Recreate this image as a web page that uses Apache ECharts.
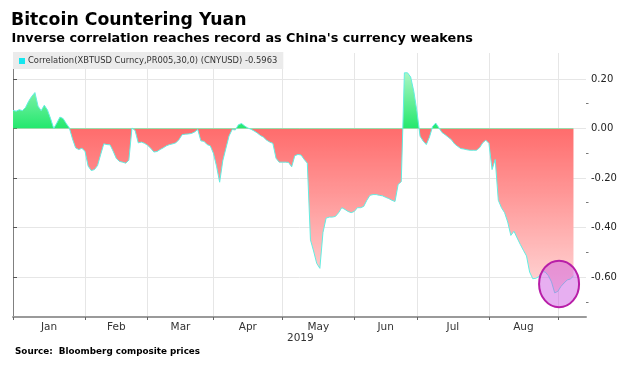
<!DOCTYPE html>
<html><head><meta charset="utf-8">
<script src="https://cdn.jsdelivr.net/npm/echarts@6/dist/echarts.min.js"></script>
<style>html,body{margin:0;padding:0;background:#fff}#c{width:631px;height:365px}</style>
</head><body><div id="c"></div>
<script>
// ---- data ----
const startDate = '2019-01-01';
const axisEndDate = '2019-09-13';
const monthNames = ['Jan','Feb','Mar','Apr','May','Jun','Jul','Aug'];
const yearLabel = '2019';
const yTickValues = [-0.6, -0.4, -0.2, 0, 0.2];
const yMinorTickValues = [-0.7, -0.5, -0.3, -0.1, 0.1];
const seriesName = 'Correlation(XBTUSD Curncy,PR005,30,0) (CNYUSD)';
const titleText = 'Bitcoin Countering Yuan';
const subtitleText = "Inverse correlation reaches record as China's currency weakens";
const sourceText = 'Source:  Bloomberg composite prices';
// one value per weekday from 2019-01-01
const correlation = [
 0.073, 0.070, 0.076, 0.072, 0.085, 0.110, 0.130, 0.145, 0.090, 0.072,
 0.094, 0.075, 0.040, 0.000, 0.022, 0.046, 0.040, 0.020, 0.002, -0.042,
 -0.078, -0.085, -0.080, -0.092, -0.152, -0.170, -0.166, -0.150, -0.105, -0.062,
 -0.065, -0.066, -0.092, -0.121, -0.133, -0.136, -0.140, -0.128, 0.002, -0.008,
 -0.058, -0.055, -0.060, -0.068, -0.080, -0.095, -0.093, -0.085, -0.078, -0.070,
 -0.065, -0.062, -0.058, -0.045, -0.025, -0.023, -0.022, -0.020, -0.014, -0.004,
 -0.050, -0.052, -0.065, -0.070, -0.100, -0.152, -0.217, -0.130, -0.080, -0.030,
 -0.004, -0.006, 0.015, 0.020, 0.010, 0.002, -0.003, -0.010, -0.018, -0.028,
 -0.035, -0.047, -0.055, -0.060, -0.120, -0.136, -0.136, -0.136, -0.137, -0.155,
 -0.110, -0.105, -0.107, -0.125, -0.140, -0.450, -0.495, -0.545, -0.565, -0.420,
 -0.362, -0.358, -0.358, -0.355, -0.340, -0.320, -0.327, -0.335, -0.340, -0.335,
 -0.320, -0.320, -0.315, -0.290, -0.270, -0.267, -0.267, -0.270, -0.272, -0.278,
 -0.283, -0.290, -0.295, -0.226, -0.215, 0.225, 0.225, 0.208, 0.150, 0.070,
 -0.031, -0.051, -0.065, -0.035, 0.008, 0.022, 0.003, -0.016, -0.025, -0.035,
 -0.045, -0.062, -0.072, -0.081, -0.083, -0.086, -0.088, -0.088, -0.088, -0.078,
 -0.058, -0.047, -0.060, -0.166, -0.125, -0.290, -0.320, -0.340, -0.378, -0.432,
 -0.415, -0.442, -0.468, -0.492, -0.515, -0.580, -0.607, -0.605, -0.598, -0.578,
 -0.580, -0.595, -0.620, -0.664, -0.658, -0.638, -0.624, -0.612, -0.608, -0.5963
];

// ---- build ----
const dates = [];
for (let d = new Date(startDate + 'T00:00:00Z'); d <= new Date(axisEndDate + 'T00:00:00Z'); d.setUTCDate(d.getUTCDate() + 1)) {
  const wd = d.getUTCDay();
  if (wd !== 0 && wd !== 6) dates.push(new Date(d));
}
const monthStarts = [];
dates.forEach((d, i) => { if (i === 0 || d.getUTCMonth() !== dates[i - 1].getUTCMonth()) monthStarts.push(i); });
const monthCenters = monthNames.map((m, k) => (monthStarts[k] + monthStarts[k + 1]) / 2);

const yMin = -0.7616, yMax = 0.305;
function lerp(a, b, t) { return Math.round(a + (b - a) * t); }
function colorAt(v) {
  if (v < 0) { const t = Math.min(1, -v / 0.76); return 'rgb(255,' + lerp(108, 232, t) + ',' + lerp(108, 232, t) + ')'; }
  const t = Math.min(1, v / 0.25); return 'rgb(' + lerp(35, 185, t) + ',' + lerp(232, 247, t) + ',' + lerp(110, 205, t) + ')';
}
const stops = [];
for (let i = 0; i < 400; i++) stops.push(colorAt(yMin + (yMax - yMin) * i / 399));

const FONT = '"DejaVu Sans", Verdana, sans-serif';
const chart = echarts.init(document.getElementById('c'), null, { renderer: 'canvas' });
const last = correlation[correlation.length - 1];

chart.setOption({
  animation: false,
  backgroundColor: '#ffffff',
  grid: { left: 13, right: 45, top: 53, bottom: 48, outerBoundsMode: 'none' },
  legend: {
    left: 13, top: 52, padding: [5, 6, 4, 6], backgroundColor: '#ebebeb',
    selectedMode: false, icon: 'rect', itemWidth: 6, itemHeight: 6,
    data: [{ name: seriesName, itemStyle: { color: '#16e6ee' } }],
    formatter: n => n + ' ' + last.toFixed(4),
    textStyle: { fontFamily: FONT, fontSize: 8.4, color: '#333', padding: [0, 0, 0, -2] }
  },
  visualMap: {
    type: 'continuous', show: false, seriesIndex: 0, dimension: 1,
    min: yMin, max: yMax, inRange: { color: stops }
  },
  xAxis: {
    type: 'value', min: 0, max: dates.length - 1,
    axisLine: { show: true, onZero: false, lineStyle: { color: '#9a9a9a', width: 2 } },
    axisTick: { show: true, customValues: monthStarts, length: 3, lineStyle: { color: '#666' } },
    axisLabel: {
      customValues: monthCenters, margin: 5,
      formatter: v => monthNames[monthCenters.indexOf(v)] || '',
      fontFamily: FONT, fontSize: 10.5, color: '#333'
    },
    splitLine: { show: true, lineStyle: { color: '#e6e6e6', width: 1 } }
  },
  yAxis: [{
    type: 'value', position: 'right', min: yMin, max: yMax,
    axisLine: { show: true, lineStyle: { color: '#808080', width: 1 } },
    axisTick: { show: true, customValues: yTickValues, length: 4, lineStyle: { color: '#555' } },
    axisLabel: { customValues: yTickValues, margin: 5, formatter: v => v.toFixed(2), fontFamily: FONT, fontSize: 10, color: '#222' },
    splitLine: { show: true, lineStyle: { color: '#e6e6e6', width: 1 } }
  }, {
    type: 'value', position: 'right', min: yMin, max: yMax,
    axisLine: { show: false },
    axisTick: { show: true, customValues: yMinorTickValues, length: 2.5, lineStyle: { color: '#777' } },
    axisLabel: { show: false },
    splitLine: { show: false }
  }],
  series: [{
    name: seriesName, type: 'line', yAxisIndex: 0,
    data: correlation.map((v, i) => [i, v]),
    showSymbol: false, symbol: 'none',
    lineStyle: { color: '#62eee2', width: 1 },
    itemStyle: { color: '#16e6ee' },
    areaStyle: { origin: 0, opacity: 1 },
    z: 2
  }],
  graphic: [
    { id: 't1', type: 'text', x: 11, y: 20.7, style: { text: titleText, font: 'bold 17.3px ' + FONT, fill: '#000', verticalAlign: 'middle' } },
    { id: 't2', type: 'text', x: 11.5, y: 38.7, style: { text: subtitleText, font: 'bold 12.8px ' + FONT, fill: '#000', verticalAlign: 'middle' } },
    { id: 't3', type: 'text', x: 15, y: 351.5, style: { text: sourceText, font: 'bold 8.8px ' + FONT, fill: '#000', verticalAlign: 'middle' } },
    { id: 't4', type: 'text', x: 287, y: 338.3, style: { text: yearLabel, font: '10.5px ' + FONT, fill: '#333', verticalAlign: 'middle' } }
  ]
});

// annotation circle around the recent record low
const c = chart.convertToPixel({ xAxisIndex: 0, yAxisIndex: 0 }, [174.4, -0.628]);
chart.setOption({
  graphic: [{ id: 'circ', type: 'ellipse', z: 100, shape: { cx: c[0], cy: c[1], rx: 20, ry: 23.3 },
    style: { fill: 'rgba(205,85,225,0.47)', stroke: '#b81ea8', lineWidth: 2 } }]
});
</script>
</body></html>
